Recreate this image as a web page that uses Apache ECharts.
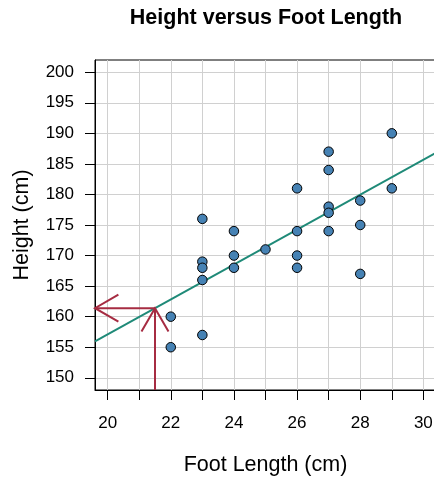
<!DOCTYPE html>
<html>
<head>
<meta charset="utf-8">
<script src="https://cdn.jsdelivr.net/npm/echarts@6/dist/echarts.min.js"></script>
<style>
  html, body { margin: 0; padding: 0; background: #ffffff; }
  #chart { width: 434px; height: 477px; }
</style>
</head>
<body>
<div id="chart"></div>
<script>
// Foot length (cm) and height (cm) of each person
const footLength = [22, 22, 23, 23, 23, 23, 23, 24, 24, 24, 25, 26, 26, 26, 26, 27, 27, 27, 27, 27, 28, 28, 28, 29, 29];
const height     = [160, 155, 176, 169, 168, 166, 157, 174, 170, 168, 171, 181, 174, 170, 168, 187, 184, 178, 177, 174, 179, 175, 167, 190, 181];

// Axis ranges and tick positions
const xRange = [19.6, 30.4];
const yRange = [148, 202];
const xTicks = [20, 21, 22, 23, 24, 25, 26, 27, 28, 29, 30];
const xTickLabels = [20, 22, 24, 26, 28, 30];
const yTicks = [150, 155, 160, 165, 170, 175, 180, 185, 190, 195, 200];

// Foot length used to read a predicted height off the fitted line
const queryFoot = 21.5;

// Least-squares fit of height on foot length
function fitLine(xs, ys) {
  const n = xs.length;
  const mx = xs.reduce((a, b) => a + b, 0) / n;
  const my = ys.reduce((a, b) => a + b, 0) / n;
  let sxy = 0, sxx = 0;
  for (let i = 0; i < n; i++) {
    sxy += (xs[i] - mx) * (ys[i] - my);
    sxx += (xs[i] - mx) * (xs[i] - mx);
  }
  const slope = sxy / sxx;
  return { slope: slope, intercept: my - slope * mx };
}
const fit = fitLine(footLength, height);
const predict = x => fit.intercept + fit.slope * x;
const queryHeight = predict(queryFoot);

const FONT = '"Liberation Sans", Arial, sans-serif';
const ARROW_COLOR = '#a62c42';
const LINE_COLOR = '#1f8a78';
const GRID_COLOR = '#d0d0d0';

// Open arrowhead at (tx, ty) pointing along (dx, dy), in pixels
function arrowHead(tx, ty, dx, dy, len, angleDeg) {
  const a = Math.atan2(dy, dx);
  const t = angleDeg * Math.PI / 180;
  const p1 = [tx - len * Math.cos(a - t), ty - len * Math.sin(a - t)];
  const p2 = [tx - len * Math.cos(a + t), ty - len * Math.sin(a + t)];
  return [p1, [tx, ty], p2];
}

const chart = echarts.init(document.getElementById('chart'), null, { renderer: 'canvas' });

chart.setOption({
  animation: false,
  backgroundColor: '#ffffff',
  textStyle: { fontFamily: FONT },
  graphic: [{
    type: 'text',
    x: 266,
    y: 18,
    style: {
      text: 'Height versus Foot Length',
      font: 'bold 21.5px ' + FONT,
      fill: '#000000',
      align: 'center',
      verticalAlign: 'middle'
    }
  }],
  grid: {
    left: 95, right: -2, top: 60, bottom: 87,
    show: true, borderColor: '#000000', borderWidth: 1,
    containLabel: false,
    outerBoundsMode: 'none'
  },
  xAxis: {
    type: 'value',
    min: xRange[0], max: xRange[1],
    name: 'Foot Length (cm)',
    nameLocation: 'middle',
    nameGap: 64,
    nameTextStyle: { fontSize: 21.5, color: '#000000', fontFamily: FONT },
    axisLine: { show: true, onZero: false, lineStyle: { color: '#000000', width: 1 } },
    axisTick: { show: true, length: 10, customValues: xTicks, lineStyle: { color: '#000000' } },
    axisLabel: { customValues: xTickLabels, fontSize: 17, color: '#000000', margin: 25, fontFamily: FONT },
    splitLine: { show: true, lineStyle: { color: GRID_COLOR, width: 1 } }
  },
  yAxis: {
    type: 'value',
    min: yRange[0], max: yRange[1],
    name: 'Height (cm)',
    nameLocation: 'middle',
    nameGap: 62,
    nameRotate: 90,
    nameTextStyle: { fontSize: 21.5, color: '#000000', fontFamily: FONT },
    axisLine: { show: true, onZero: false, lineStyle: { color: '#000000', width: 1 } },
    axisTick: { show: true, length: 10, customValues: yTicks, lineStyle: { color: '#000000' } },
    axisLabel: { customValues: yTicks, fontSize: 17, color: '#000000', margin: 21, fontFamily: FONT },
    splitLine: { show: true, lineStyle: { color: GRID_COLOR, width: 1 } }
  },
  series: [
    {
      name: 'fit',
      type: 'line',
      data: [[xRange[0], predict(xRange[0])], [xRange[1], predict(xRange[1])]],
      showSymbol: false,
      symbol: 'none',
      lineStyle: { color: LINE_COLOR, width: 2 },
      z: 2,
      silent: true
    },
    {
      name: 'reading',
      type: 'custom',
      data: [[queryFoot, queryHeight]],
      z: 3,
      silent: true,
      clip: false,
      renderItem: function (params, api) {
        const x = api.value(0), y = api.value(1);
        const base = api.coord([x, yRange[0]]);
        const tip = api.coord([x, y]);
        const left = api.coord([xRange[0], y]);
        const style = { stroke: ARROW_COLOR, lineWidth: 2, fill: null };
        return {
          type: 'group',
          children: [
            { type: 'polyline', shape: { points: [base, tip] }, style: style },
            { type: 'polyline', shape: { points: arrowHead(tip[0], tip[1], 0, -1, 27, 30) }, style: style },
            { type: 'polyline', shape: { points: [tip, left] }, style: style },
            { type: 'polyline', shape: { points: arrowHead(left[0], left[1], -1, 0, 27, 30) }, style: style }
          ]
        };
      }
    },
    {
      name: 'people',
      type: 'scatter',
      data: footLength.map((f, i) => [f, height[i]]),
      symbol: 'circle',
      symbolSize: 9.5,
      itemStyle: { color: '#4682b4', borderColor: '#000000', borderWidth: 1, opacity: 1 },
      z: 4
    }
  ]
});
</script>
</body>
</html>
